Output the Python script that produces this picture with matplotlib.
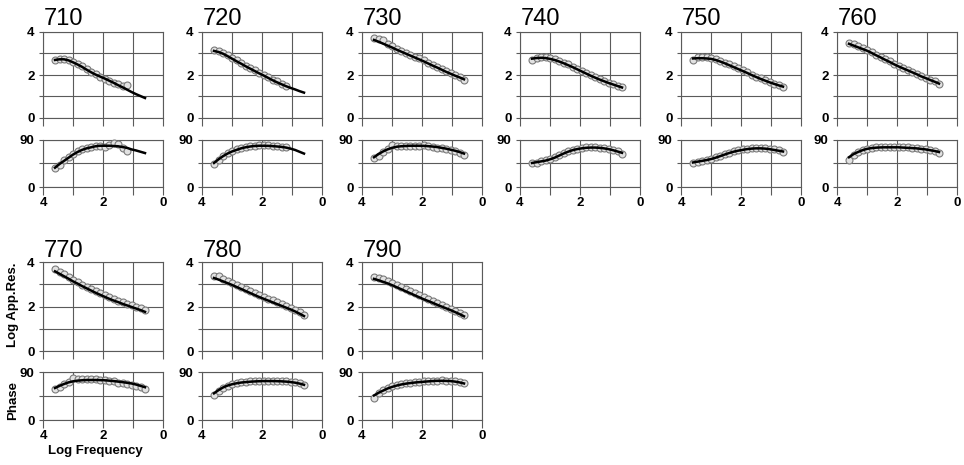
import numpy as np
import matplotlib
matplotlib.use("Agg")
import matplotlib.pyplot as plt

plt.rcParams['font.family'] = ['Liberation Sans', 'DejaVu Sans']

nan = np.nan
stations = ["710", "720", "730", "740", "750", "760", "770", "780", "790"]
log_freq = [3.6, 3.45, 3.3, 3.15, 3.0, 2.85, 2.7, 2.55, 2.4, 2.25, 2.1,
            1.95, 1.8, 1.65, 1.5, 1.35, 1.2, 1.05, 0.9, 0.75, 0.6]

rho_obs = {
    "710": [2.68, 2.74, 2.74, 2.70, 2.62, 2.52, 2.40, 2.28, 2.15, 2.03, 1.93, 1.83, 1.72, 1.62, 1.56, 1.48, 1.52, nan, nan, nan, nan],
    "720": [3.14, 3.12, 3.03, 2.92, 2.80, 2.68, 2.56, 2.44, 2.33, 2.21, 2.10, 2.00, 1.89, 1.79, 1.70, 1.60, 1.50, nan, nan, nan, nan],
    "730": [3.70, 3.68, 3.62, 3.45, 3.33, 3.22, 3.13, 3.04, 2.95, 2.86, 2.77, 2.68, 2.58, 2.48, 2.38, 2.28, 2.18, 2.09, 2.00, 1.90, 1.78],
    "740": [2.72, 2.81, 2.84, 2.83, 2.79, 2.74, 2.67, 2.58, 2.49, 2.39, 2.29, 2.19, 2.09, 1.99, 1.90, 1.81, 1.73, 1.65, 1.57, 1.50, 1.43],
    "750": [2.72, 2.83, 2.84, 2.82, 2.78, 2.73, 2.67, 2.58, 2.49, 2.40, 2.31, 2.21, 2.12, 2.02, 1.93, 1.84, 1.76, 1.68, 1.60, 1.53, 1.46],
    "760": [3.50, 3.42, 3.33, 3.24, 3.16, 3.06, 2.95, 2.85, 2.74, 2.64, 2.53, 2.43, 2.34, 2.25, 2.15, 2.06, 1.96, 1.88, 1.79, 1.70, 1.58],
    "770": [3.68, 3.57, 3.44, 3.32, 3.20, 3.09, 2.98, 2.88, 2.78, 2.68, 2.59, 2.50, 2.41, 2.33, 2.26, 2.19, 2.12, 2.05, 1.98, 1.92, 1.86],
    "780": [3.38, 3.35, 3.24, 3.14, 3.05, 2.96, 2.87, 2.78, 2.69, 2.60, 2.51, 2.43, 2.35, 2.27, 2.19, 2.11, 2.03, 1.94, 1.85, 1.74, 1.60],
    "790": [3.32, 3.29, 3.22, 3.13, 3.05, 2.96, 2.87, 2.78, 2.69, 2.60, 2.51, 2.42, 2.34, 2.25, 2.17, 2.08, 2.00, 1.91, 1.82, 1.72, 1.60],
}
rho_mod = {
    "710": [2.70, 2.73, 2.73, 2.68, 2.59, 2.49, 2.38, 2.25, 2.13, 2.02, 1.93, 1.84, 1.74, 1.64, 1.53, 1.43, 1.32, 1.21, 1.11, 1.02, 0.93],
    "720": [3.12, 3.07, 2.99, 2.88, 2.76, 2.64, 2.53, 2.41, 2.30, 2.19, 2.08, 1.98, 1.87, 1.76, 1.66, 1.57, 1.48, 1.40, 1.33, 1.25, 1.18],
    "730": [3.63, 3.55, 3.46, 3.37, 3.28, 3.18, 3.09, 3.00, 2.91, 2.82, 2.73, 2.64, 2.54, 2.44, 2.35, 2.25, 2.15, 2.06, 1.97, 1.89, 1.80],
    "740": [2.76, 2.79, 2.80, 2.79, 2.75, 2.70, 2.63, 2.55, 2.46, 2.37, 2.27, 2.17, 2.07, 1.97, 1.88, 1.79, 1.71, 1.63, 1.56, 1.49, 1.42],
    "750": [2.77, 2.78, 2.78, 2.77, 2.75, 2.70, 2.63, 2.55, 2.46, 2.37, 2.28, 2.19, 2.10, 2.00, 1.91, 1.82, 1.74, 1.66, 1.59, 1.52, 1.46],
    "760": [3.45, 3.37, 3.29, 3.21, 3.13, 3.03, 2.92, 2.82, 2.71, 2.61, 2.50, 2.40, 2.31, 2.22, 2.13, 2.04, 1.94, 1.86, 1.77, 1.69, 1.60],
    "770": [3.58, 3.47, 3.36, 3.25, 3.13, 3.03, 2.92, 2.82, 2.72, 2.62, 2.53, 2.44, 2.35, 2.27, 2.20, 2.12, 2.05, 1.98, 1.91, 1.84, 1.76],
    "780": [3.28, 3.21, 3.13, 3.05, 2.97, 2.88, 2.79, 2.70, 2.61, 2.52, 2.43, 2.35, 2.27, 2.19, 2.11, 2.03, 1.95, 1.87, 1.78, 1.68, 1.57],
    "790": [3.24, 3.18, 3.11, 3.04, 2.96, 2.87, 2.78, 2.69, 2.60, 2.51, 2.42, 2.33, 2.25, 2.17, 2.08, 2.00, 1.92, 1.84, 1.75, 1.66, 1.56],
}
phs_obs = {
    "710": [36, 43, 51, 57, 63, 68, 72, 75, 77, 78, 79, 76, 81, 85, 83, 75, 68, nan, nan, nan, nan],
    "720": [44, 52, 59, 65, 69, 72, 75, 77, 78, 79, 80, 80, 80, 79, 78, 77, 76, nan, nan, nan, nan],
    "730": [56, 60, 67, 73, 80, 79, 79, 79, 79, 79, 79, 80, 79, 77, 75, 74, 73, 71, 69, 66, 62],
    "740": [45, 46, 49, 51, 54, 57, 61, 65, 68, 71, 73, 75, 76, 76, 76, 75, 74, 73, 71, 68, 64],
    "750": [45, 47, 50, 52, 54, 57, 60, 63, 66, 69, 71, 72, 73, 74, 74.5, 74.5, 74, 73, 72, 70, 67],
    "760": [52, 61, 67, 71, 73, 75, 76, 76, 77, 77, 77, 77, 76, 76, 75, 74, 73, 72, 71, 69, 66],
    "770": [58, 62, 67, 72, 79, 76, 76, 76, 76, 76, 75, 75, 74, 73, 70, 69, 68, 66, 64, 62, 59],
    "780": [46, 54, 60, 64, 67, 69, 71, 72, 72.5, 73, 73, 73.5, 73.5, 73.5, 73.5, 73, 72.5, 72, 71, 69, 66],
    "790": [42, 50, 56, 60, 63, 65, 67, 69, 70, 71, 72, 72.5, 73, 73.5, 74, 74.5, 74, 73.5, 72.5, 71, 69],
}
phs_mod = {
    "710": [37, 44, 50, 56, 62, 67, 71, 74, 76, 78, 79, 79, 79, 78.5, 78, 76.5, 75, 72, 70, 67.5, 65],
    "720": [46, 53, 59, 64, 68, 71, 74, 76, 77.5, 78.5, 79, 79, 78.8, 78.3, 77.6, 76.8, 75.5, 73.5, 71, 67.5, 64],
    "730": [57, 63, 68, 72, 75, 77, 78, 78.5, 79, 79, 79, 78.8, 78.2, 77.5, 76.5, 75, 73.5, 71.5, 69.5, 67, 64],
    "740": [46, 47.5, 49, 50.5, 53, 56, 60, 64, 67.5, 70.5, 72.5, 74, 75, 75.5, 75.5, 75, 74, 72.5, 70.5, 68, 65.5],
    "750": [47, 48.5, 50, 51.5, 53.5, 56, 59, 62, 65, 67.5, 69.5, 71, 72.5, 73.5, 74, 74, 73.5, 72.5, 71, 69.5, 68],
    "760": [57, 63, 67, 70.5, 73, 74.5, 75.3, 75.8, 76, 76, 76, 76, 75.5, 75, 74.5, 74, 73, 72, 70.5, 69, 67],
    "770": [60, 64, 67.5, 70.5, 72.5, 73.8, 74.5, 75, 75, 75, 74.8, 74.5, 73.8, 73, 72, 71, 69.8, 68.5, 66.5, 64, 61.5],
    "780": [50, 56, 61, 64.5, 67, 68.8, 70.2, 71, 71.8, 72.3, 72.7, 73, 73, 73, 72.8, 72.5, 72, 71.2, 70, 68.3, 66],
    "790": [46, 51, 55, 59, 62, 64.5, 66.5, 68, 69.2, 70.2, 71, 71.7, 72.4, 73, 73.5, 73.5, 73.3, 73, 72, 70.5, 68.5],
}

# ---- layout (pixels) ----
W, H = 964, 465
fig = plt.figure(figsize=(W / 100, H / 100), dpi=100)
col_left = [43, 202, 362, 520, 681, 837]
panel_w = 120
rows = [  # (title_baseline, rho_top, rho_bottom, phs_top, phs_bottom)
    (25, 32, 118, 140, 187),
    (257, 262, 351, 372, 420),
]
grid_col = '#5a5a5a'
tick_font = dict(fontsize=9.5, fontweight='bold')


def add_ax(x0, top, bottom):
    return fig.add_axes([x0 / W, 1 - bottom / H, panel_w / W, (bottom - top) / H])


def style(ax):
    for s in ax.spines.values():
        s.set_color(grid_col)
        s.set_linewidth(0.8)
    ax.grid(True, color=grid_col, lw=0.8)
    ax.set_axisbelow(True)
    ax.set_xlim(4, 0)
    ax.set_xticks([4, 3, 2, 1, 0])
    ax.tick_params(axis='x', direction='out', length=6, width=0.8, color=grid_col, pad=1.5)
    ax.tick_params(axis='y', direction='out', length=3, width=0.8, color=grid_col, pad=3)


for i, st in enumerate(stations):
    r, c = divmod(i, 6)
    x0 = col_left[c]
    tb, rt, rb, pt, pb = rows[r]
    ax1 = add_ax(x0, rt, rb)
    ax2 = add_ax(x0, pt, pb)
    for ax in (ax1, ax2):
        style(ax)
    ax1.set_ylim(0, 4)
    ax1.set_yticks([0, 1, 2, 3, 4], labels=['0', '', '2', '', '4'], **tick_font)
    ax1.set_xticklabels([])
    ax2.set_ylim(0, 90)
    ax2.set_yticks([0, 45, 90], labels=['0', '', '90'], **tick_font)
    ax2.set_xticks([4, 3, 2, 1, 0], labels=['4', '', '2', '', '0'], **tick_font)

    mk = dict(ms=5, mfc='#e2e2e2', mec='#7a7a7a', mew=0.8, zorder=3)
    ax1.plot(log_freq, rho_obs[st], 'o', **mk)
    ax1.plot(log_freq, rho_mod[st], '-', color='black', lw=1.8, zorder=4)
    ax2.plot(log_freq, phs_obs[st], 'o', **mk)
    ax2.plot(log_freq, phs_mod[st], '-', color='black', lw=1.8, zorder=4)
    for ax in (ax1, ax2):
        for ln in ax.lines:
            ln.set_clip_on(False)

    fig.text((x0 + 1) / W, 1 - tb / H, st, fontsize=17, ha='left', va='baseline')

    if i == 6:
        fig.text(13 / W, 1 - 305 / H, 'Log App.Res.', rotation=90, fontsize=9.5,
                 fontweight='bold', ha='center', va='center')
        fig.text(13 / W, 1 - 400 / H, 'Phase', rotation=90, fontsize=9.5,
                 fontweight='bold', ha='center', va='center')
        fig.text(95 / W, 1 - 451 / H, 'Log Frequency', fontsize=9.5,
                 fontweight='bold', ha='center', va='center')

fig.savefig('out.png', dpi=100)
